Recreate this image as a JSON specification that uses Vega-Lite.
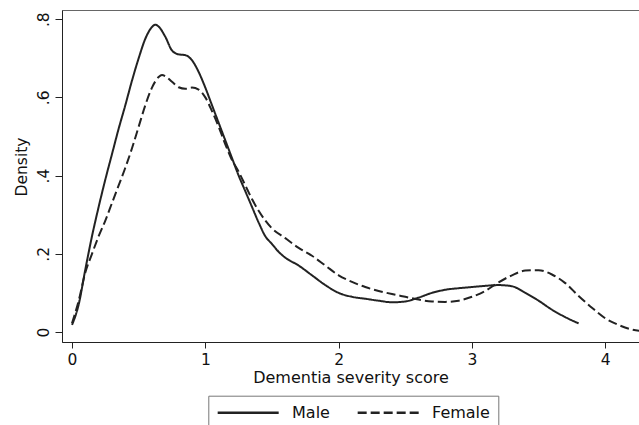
{
  "$schema": "https://vega.github.io/schema/vega-lite/v6.json",
  "width": 577,
  "height": 332,
  "autosize": {"type": "none"},
  "padding": {"left": 62, "top": 10, "right": 0, "bottom": 83},
  "background": "white",
  "config": {"view": {"stroke": "#666", "strokeWidth": 1}, "font": "DejaVu Sans"},
  "datasets": {
    "dens": [
      {"x": 0.00, "d": 0.018, "sex": "Male"},
      {"x": 0.05, "d": 0.07, "sex": "Male"},
      {"x": 0.10, "d": 0.16, "sex": "Male"},
      {"x": 0.15, "d": 0.245, "sex": "Male"},
      {"x": 0.20, "d": 0.32, "sex": "Male"},
      {"x": 0.25, "d": 0.39, "sex": "Male"},
      {"x": 0.30, "d": 0.455, "sex": "Male"},
      {"x": 0.35, "d": 0.52, "sex": "Male"},
      {"x": 0.40, "d": 0.58, "sex": "Male"},
      {"x": 0.45, "d": 0.643, "sex": "Male"},
      {"x": 0.50, "d": 0.7, "sex": "Male"},
      {"x": 0.55, "d": 0.75, "sex": "Male"},
      {"x": 0.60, "d": 0.78, "sex": "Male"},
      {"x": 0.625, "d": 0.786, "sex": "Male"},
      {"x": 0.65, "d": 0.781, "sex": "Male"},
      {"x": 0.70, "d": 0.755, "sex": "Male"},
      {"x": 0.75, "d": 0.72, "sex": "Male"},
      {"x": 0.80, "d": 0.71, "sex": "Male"},
      {"x": 0.85, "d": 0.708, "sex": "Male"},
      {"x": 0.90, "d": 0.695, "sex": "Male"},
      {"x": 0.95, "d": 0.665, "sex": "Male"},
      {"x": 1.00, "d": 0.625, "sex": "Male"},
      {"x": 1.05, "d": 0.58, "sex": "Male"},
      {"x": 1.10, "d": 0.535, "sex": "Male"},
      {"x": 1.15, "d": 0.49, "sex": "Male"},
      {"x": 1.20, "d": 0.445, "sex": "Male"},
      {"x": 1.25, "d": 0.40, "sex": "Male"},
      {"x": 1.30, "d": 0.36, "sex": "Male"},
      {"x": 1.35, "d": 0.32, "sex": "Male"},
      {"x": 1.40, "d": 0.28, "sex": "Male"},
      {"x": 1.45, "d": 0.245, "sex": "Male"},
      {"x": 1.50, "d": 0.225, "sex": "Male"},
      {"x": 1.55, "d": 0.205, "sex": "Male"},
      {"x": 1.60, "d": 0.19, "sex": "Male"},
      {"x": 1.70, "d": 0.17, "sex": "Male"},
      {"x": 1.80, "d": 0.145, "sex": "Male"},
      {"x": 1.90, "d": 0.12, "sex": "Male"},
      {"x": 2.00, "d": 0.10, "sex": "Male"},
      {"x": 2.10, "d": 0.09, "sex": "Male"},
      {"x": 2.20, "d": 0.085, "sex": "Male"},
      {"x": 2.30, "d": 0.08, "sex": "Male"},
      {"x": 2.40, "d": 0.076, "sex": "Male"},
      {"x": 2.50, "d": 0.078, "sex": "Male"},
      {"x": 2.60, "d": 0.088, "sex": "Male"},
      {"x": 2.70, "d": 0.10, "sex": "Male"},
      {"x": 2.80, "d": 0.108, "sex": "Male"},
      {"x": 2.90, "d": 0.112, "sex": "Male"},
      {"x": 3.00, "d": 0.115, "sex": "Male"},
      {"x": 3.10, "d": 0.118, "sex": "Male"},
      {"x": 3.20, "d": 0.12, "sex": "Male"},
      {"x": 3.30, "d": 0.117, "sex": "Male"},
      {"x": 3.40, "d": 0.10, "sex": "Male"},
      {"x": 3.50, "d": 0.08, "sex": "Male"},
      {"x": 3.60, "d": 0.057, "sex": "Male"},
      {"x": 3.70, "d": 0.038, "sex": "Male"},
      {"x": 3.80, "d": 0.022, "sex": "Male"},
      {"x": 0.00, "d": 0.022, "sex": "Female"},
      {"x": 0.05, "d": 0.08, "sex": "Female"},
      {"x": 0.10, "d": 0.152, "sex": "Female"},
      {"x": 0.15, "d": 0.2, "sex": "Female"},
      {"x": 0.20, "d": 0.245, "sex": "Female"},
      {"x": 0.25, "d": 0.285, "sex": "Female"},
      {"x": 0.30, "d": 0.33, "sex": "Female"},
      {"x": 0.35, "d": 0.375, "sex": "Female"},
      {"x": 0.40, "d": 0.42, "sex": "Female"},
      {"x": 0.45, "d": 0.47, "sex": "Female"},
      {"x": 0.50, "d": 0.525, "sex": "Female"},
      {"x": 0.55, "d": 0.58, "sex": "Female"},
      {"x": 0.60, "d": 0.625, "sex": "Female"},
      {"x": 0.65, "d": 0.652, "sex": "Female"},
      {"x": 0.675, "d": 0.657, "sex": "Female"},
      {"x": 0.70, "d": 0.654, "sex": "Female"},
      {"x": 0.75, "d": 0.64, "sex": "Female"},
      {"x": 0.80, "d": 0.626, "sex": "Female"},
      {"x": 0.85, "d": 0.622, "sex": "Female"},
      {"x": 0.90, "d": 0.625, "sex": "Female"},
      {"x": 0.95, "d": 0.62, "sex": "Female"},
      {"x": 1.00, "d": 0.60, "sex": "Female"},
      {"x": 1.05, "d": 0.565, "sex": "Female"},
      {"x": 1.10, "d": 0.525, "sex": "Female"},
      {"x": 1.15, "d": 0.48, "sex": "Female"},
      {"x": 1.20, "d": 0.44, "sex": "Female"},
      {"x": 1.25, "d": 0.41, "sex": "Female"},
      {"x": 1.30, "d": 0.375, "sex": "Female"},
      {"x": 1.35, "d": 0.34, "sex": "Female"},
      {"x": 1.40, "d": 0.31, "sex": "Female"},
      {"x": 1.45, "d": 0.285, "sex": "Female"},
      {"x": 1.50, "d": 0.265, "sex": "Female"},
      {"x": 1.60, "d": 0.24, "sex": "Female"},
      {"x": 1.70, "d": 0.215, "sex": "Female"},
      {"x": 1.80, "d": 0.195, "sex": "Female"},
      {"x": 1.90, "d": 0.17, "sex": "Female"},
      {"x": 2.00, "d": 0.145, "sex": "Female"},
      {"x": 2.10, "d": 0.128, "sex": "Female"},
      {"x": 2.20, "d": 0.115, "sex": "Female"},
      {"x": 2.30, "d": 0.105, "sex": "Female"},
      {"x": 2.40, "d": 0.097, "sex": "Female"},
      {"x": 2.50, "d": 0.09, "sex": "Female"},
      {"x": 2.60, "d": 0.083, "sex": "Female"},
      {"x": 2.70, "d": 0.078, "sex": "Female"},
      {"x": 2.80, "d": 0.077, "sex": "Female"},
      {"x": 2.90, "d": 0.08, "sex": "Female"},
      {"x": 3.00, "d": 0.09, "sex": "Female"},
      {"x": 3.10, "d": 0.105, "sex": "Female"},
      {"x": 3.20, "d": 0.127, "sex": "Female"},
      {"x": 3.30, "d": 0.145, "sex": "Female"},
      {"x": 3.40, "d": 0.157, "sex": "Female"},
      {"x": 3.50, "d": 0.158, "sex": "Female"},
      {"x": 3.60, "d": 0.147, "sex": "Female"},
      {"x": 3.70, "d": 0.125, "sex": "Female"},
      {"x": 3.80, "d": 0.092, "sex": "Female"},
      {"x": 3.90, "d": 0.062, "sex": "Female"},
      {"x": 4.00, "d": 0.035, "sex": "Female"},
      {"x": 4.10, "d": 0.018, "sex": "Female"},
      {"x": 4.20, "d": 0.006, "sex": "Female"},
      {"x": 4.30, "d": 0.002, "sex": "Female"}
    ]
  },
  "data": {"name": "dens"},
  "mark": {"type": "line", "interpolate": "monotone", "strokeWidth": 2, "clip": true, "color": "#222"},
  "encoding": {
    "x": {
      "field": "x", "type": "quantitative",
      "scale": {"domain": [-0.075, 4.253], "nice": false, "zero": false},
      "axis": {
        "values": [0, 1, 2, 3, 4], "grid": false, "title": "Dementia severity score",
        "domainColor": "#222", "tickColor": "#222", "tickSize": 6, "labelFlush": false,
        "labelFontSize": 15.5, "labelColor": "#111", "labelPadding": 4,
        "titleFontSize": 16, "titleFontWeight": "normal", "titleColor": "#111",
        "titleY": 40.7, "titleBaseline": "alphabetic"
      }
    },
    "y": {
      "field": "d", "type": "quantitative",
      "scale": {"domain": [-0.0256, 0.8235], "nice": false, "zero": false},
      "axis": {
        "values": [0, 0.2, 0.4, 0.6, 0.8], "grid": false, "title": "Density",
        "labelExpr": "datum.value == 0 ? '0' : replace(format(datum.value, '.1f'), '0.', '.')",
        "labelAngle": 270, "labelAlign": "center", "labelBaseline": "alphabetic",
        "labelPadding": 7, "tickSize": 7, "labelFontSize": 15.5, "labelColor": "#111",
        "domainColor": "#222", "tickColor": "#222",
        "titleFontSize": 15.5, "titleFontWeight": "normal", "titleColor": "#111",
        "titleAngle": 270, "titleAlign": "center", "titleBaseline": "alphabetic",
        "titleX": -35.3, "titleY": 156.5
      }
    },
    "strokeDash": {
      "field": "sex", "type": "nominal",
      "scale": {"domain": ["Male", "Female"], "range": [[1, 0], [9, 4]]},
      "legend": {
        "orient": "none", "legendX": 146.3, "legendY": 385.7, "direction": "horizontal",
        "title": null, "symbolType": "M-1,0L7,0", "symbolSize": 232.6, "symbolStrokeWidth": 2.5,
        "symbolStrokeColor": "#222", "symbolFillColor": "transparent",
        "labelFontSize": 16, "labelColor": "#111",
        "labelOffset": 57.75, "columnPadding": 22, "strokeColor": "#777", "padding": 8,
        "fillColor": "white"
      }
    }
  }
}
